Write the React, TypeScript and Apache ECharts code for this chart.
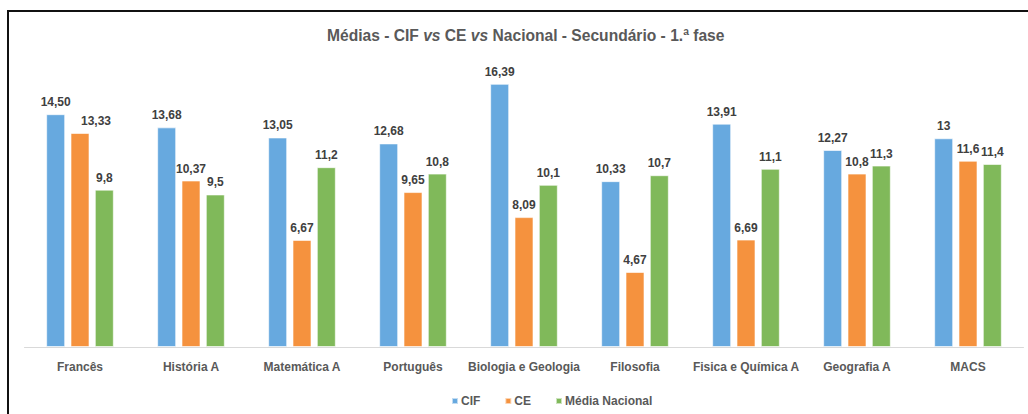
import React, { useEffect, useRef } from "react";
import * as echarts from "echarts";

const categories = ["Francês", "História A", "Matemática A", "Português", "Biologia e Geologia", "Filosofia", "Fisica e Química A", "Geografia A", "MACS"];
const cifValues = [14.5, 13.68, 13.05, 12.68, 16.39, 10.33, 13.91, 12.27, 13];
const ceValues = [13.33, 10.37, 6.67, 9.65, 8.09, 4.67, 6.69, 10.8, 11.6];
const nacValues = [9.8, 9.5, 11.2, 10.8, 10.1, 10.7, 11.1, 11.3, 11.4];
const cifLabels = ["14,50", "13,68", "13,05", "12,68", "16,39", "10,33", "13,91", "12,27", "13"];
const ceLabels = ["13,33", "10,37", "6,67", "9,65", "8,09", "4,67", "6,69", "10,8", "11,6"];
const nacLabels = ["9,8", "9,5", "11,2", "10,8", "10,1", "10,7", "11,1", "11,3", "11,4"];

const FONT = "'Liberation Sans', Arial, sans-serif";

export default function App() {
  const ref = useRef<HTMLDivElement>(null);
  useEffect(() => {
    const chart = echarts.init(ref.current!, null, { renderer: "svg" });
    const labelStyle = {
      show: true,
      position: "top",
      distance: 6,
      color: "#404040",
      fontWeight: "bold",
      fontSize: 12,
      fontFamily: FONT,
    };
    const mkSeries = (name: string, values: number[], labels: string[], color: string, shifted: number[] = []) => ({
      name,
      type: "bar",
      data: values.map((v, i) =>
        shifted.includes(i) ? { value: v, label: { offset: [16, 0] } } : v
      ),
      barWidth: 19,
      barGap: "28%",
      itemStyle: { color, borderColor: "rgba(255,255,255,0.6)", borderWidth: 1 },
      label: { ...labelStyle, formatter: (p: any) => labels[p.dataIndex] },
    });
    chart.setOption({
      animation: false,
      backgroundColor: "#ffffff",
      title: {
        text: "{b|Médias - CIF }{i|vs}{b| CE }{i|vs}{b| Nacional - Secundário - 1.ª fase}",
        left: 322,
        top: 22,
        textStyle: {
          rich: {
            b: { fontSize: 15.6, fontWeight: "bold", color: "#595959", fontFamily: FONT },
            i: { fontSize: 15.6, fontWeight: "bold", fontStyle: "italic", color: "#595959", fontFamily: FONT },
          },
        },
      },
      legend: {
        bottom: 2,
        left: 446,
        itemWidth: 6,
        itemHeight: 6,
        itemGap: 24,
        icon: "rect",
        textStyle: { color: "#595959", fontSize: 12, fontWeight: "bold", fontFamily: FONT, padding: [0, 0, 0, -2] },
        data: ["CIF", "CE", "Média Nacional"],
      },
      grid: { left: 24.5, right: 4.5, top: 58, bottom: 67 },
      xAxis: {
        type: "category",
        data: categories,
        axisLine: { lineStyle: { color: "#d9d9d9" } },
        axisTick: { show: false },
        axisLabel: { color: "#595959", fontWeight: "bold", fontSize: 12, fontFamily: FONT, margin: 14, interval: 0 },
      },
      yAxis: { type: "value", min: 0, max: 18, show: false, splitLine: { show: false } },
      graphic: [
        {
          type: "rect",
          shape: { x: 8, y: 11, width: 1100, height: 500 },
          style: { fill: "none", stroke: "#111111", lineWidth: 2 },
          silent: true,
        },
      ],
      series: [
        mkSeries("CIF", cifValues, cifLabels, "#67A9DF"),
        mkSeries("CE", ceValues, ceLabels, "#F5923E", [0]),
        mkSeries("Média Nacional", nacValues, nacLabels, "#80B95A"),
      ],
    });
    return () => chart.dispose();
  }, []);
  return <div ref={ref} style={{ width: 1028, height: 414, position: "absolute", left: 0, top: 0 }} />;
}
